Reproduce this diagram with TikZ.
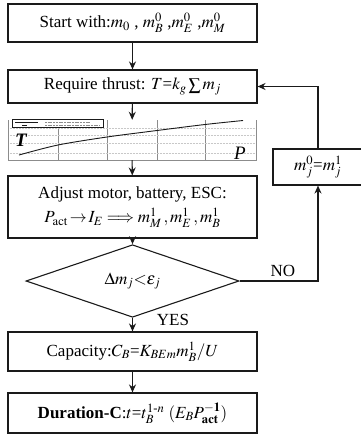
\documentclass[tikz,border=0pt]{standalone}
\usepackage{amsmath}
\usepackage{mathptmx}
\usepackage{fontspec}
\setmainfont{Liberation Serif}
\usetikzlibrary{arrows.meta,positioning,shapes}
\definecolor{ink}{HTML}{1A1A1A}
\definecolor{gridgray}{HTML}{8C8C8C}
\definecolor{dotgray}{HTML}{C8C8C8}
\tikzset{
  flowbox/.style={draw=ink,line width=1.1pt,minimum width=249pt,
                  align=center,font=\fontsize{17}{24}\selectfont,inner sep=2pt},
  sidebox/.style={draw=ink,line width=1.1pt,minimum width=90pt,minimum height=36pt,
                  align=center,font=\fontsize{17}{20}\selectfont,inner sep=2pt},
  decision/.style={draw=ink,line width=1.1pt,diamond,minimum width=213pt,
                   minimum height=62pt,inner sep=0pt,font=\fontsize{17}{20}\selectfont},
  branch/.style={font=\fontsize{17}{20}\selectfont},
  flowarr/.style={-{Stealth[length=8pt,width=7pt]},line width=1.1pt,color=ink}
}

\begin{document}
\begin{tikzpicture}[x=1pt,y=-1pt]
  \useasboundingbox (0,0) rectangle (361,437);
  % main column
  \node[flowbox,minimum height=38pt] (start) at (132.5,23)
    {Start with:$m_{0}$ , $m^{0}_{B}$ ,$m^{0}_{E}$ ,$m^{0}_{M}$};
  \node[flowbox,minimum height=33pt] (thrust) at (132.5,86.5)
    {Require thrust: $T$=$k_{g}\sum m_{j}$};
  \node[minimum width=248pt,minimum height=40pt,inner sep=0pt] (chart) at (132,140) {};
  \node[flowbox,minimum height=62pt] (adjust) at (132.5,207)
    {Adjust motor, battery, ESC:\\
     $P_{\mathrm{act}}\!\rightarrow\! I_{E}\Longrightarrow m^{1}_{M}\,,m^{1}_{E}\,,m^{1}_{B}$};
  \node[decision] (check) at (132.5,281) {$\Delta m_{j}{<}\varepsilon_{j}$};
  \node[flowbox,minimum height=39pt] (capac) at (132.5,351.5)
    {Capacity:$C_{B}$=$K_{BEm}m^{1}_{B}/U$};
  \node[flowbox,minimum height=40pt] (durat) at (132.5,413)
    {\textbf{Duration-C}:$t$=$t^{1\text{-}n}_{B}$ $(E_{B}P^{\mathbf{-1}}_{\mathbf{act}})$};
  \node[sidebox] (update) at (318,167) {$m^{0}_{j}$=$m^{1}_{j}$};

  % thrust-power chart
  \foreach \gx in {58,107,157,205}
    \draw[gridgray,line width=0.5pt] (\gx,120) -- (\gx,160);
  \foreach \gy in {128,135,143,153}
    \draw[dotgray,densely dotted,line width=0.5pt] (8,\gy) -- (256,\gy);
  \draw[gridgray,line width=0.8pt] (8,120) -- (8,160) -- (256,160) -- (256,120);
  \draw[ink,line width=0.6pt,fill=white] (12,119.5) rectangle (103,127.5);
  \draw[ink,line width=0.5pt] (15,122) -- (38,122);
  \draw[ink,line width=0.8pt] (22,125) -- (27,125);
  \draw[gridgray,line width=1pt,dash pattern=on 2pt off 0.7pt] (45,122) -- (90,122);
  \draw[gridgray,line width=1pt,dash pattern=on 2pt off 0.7pt] (45,125) -- (100,125);
  \draw[ink,line width=0.9pt] plot[smooth] coordinates
    {(19,155) (58,145) (107,137) (157,130.5) (205,124.5) (243,120.5)};
  \node[font=\fontsize{19}{20}\selectfont\bfseries\itshape] (tlab) at (21,140) {T};
  \node[font=\fontsize{19}{20}\selectfont\itshape] (plab) at (240,153) {P};

  % connectors
  \draw[flowarr] (start) -- (thrust);
  \draw[flowarr] (thrust) -- (chart);
  \draw[flowarr] (chart) -- (adjust);
  \draw[flowarr] (adjust) -- (check);
  \draw[flowarr] (check) -- (capac);
  \draw[flowarr] (capac) -- (durat);
  \draw[flowarr] (check.east) -| (update.south);
  \draw[flowarr] (update.north) |- (thrust.east);
  \node[branch] (nolab) at (283,271) {NO};
  \node[branch] (yeslab) at (173,320) {YES};
\end{tikzpicture}
\end{document}
